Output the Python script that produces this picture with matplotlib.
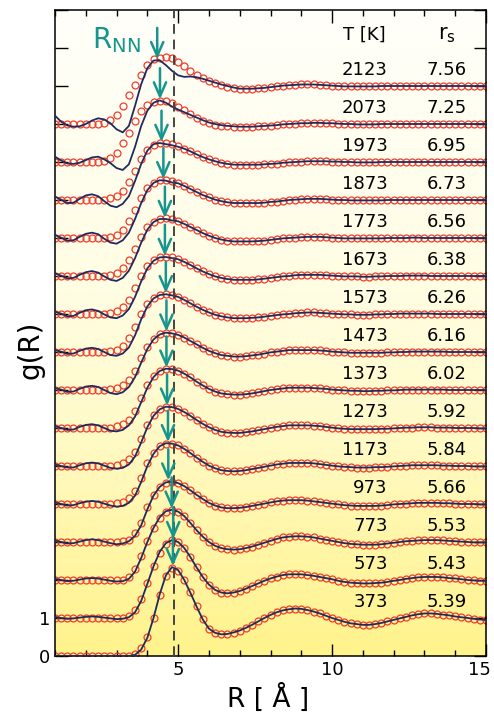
import numpy as np
import matplotlib.pyplot as plt
from matplotlib.colors import LinearSegmentedColormap
from matplotlib.transforms import ScaledTranslation

plt.rcParams['font.family'] = ['DejaVu Sans']

# R grid (angstrom) shared by every curve
r = np.round(np.linspace(1.0, 15.0, 71), 1)

temps = [373, 573, 773, 973, 1173, 1273, 1373, 1473, 1573, 1673, 1773, 1873, 1973, 2073, 2123]
rs = [5.39, 5.43, 5.53, 5.66, 5.84, 5.92, 6.02, 6.16, 6.26, 6.38, 6.56, 6.73, 6.95, 7.25, 7.56]
r_nn = [4.83, 4.84, 4.79, 4.68, 4.67, 4.64, 4.62, 4.62, 4.60, 4.57, 4.57, 4.52, 4.46, 4.41, 4.32]

# measured g(R), circles
g_373 = [0, 0, 0, 0, 0, 0, 0, 0, 0, 0,
         0, 0, 0.01, 0.05, 0.2, 0.5, 1.0, 1.6, 2.1, 2.32,
         2.25, 2.0, 1.68, 1.32, 0.97, 0.72, 0.61, 0.57, 0.57, 0.61,
         0.67, 0.74, 0.82, 0.91, 1.0, 1.08, 1.15, 1.2, 1.23, 1.25,
         1.24, 1.21, 1.17, 1.12, 1.06, 1.0, 0.95, 0.9, 0.86, 0.84,
         0.82, 0.82, 0.84, 0.87, 0.91, 0.95, 0.99, 1.03, 1.07, 1.1,
         1.12, 1.12, 1.11, 1.09, 1.07, 1.04, 1.02, 1.0, 0.98, 0.96, 0.95]
g_573 = [0, 0, 0, 0, 0, 0, 0, 0, 0, 0,
         0, 0.01, 0.04, 0.2, 0.5, 0.92, 1.36, 1.72, 1.95, 2.04,
         2.0, 1.84, 1.6, 1.33, 1.08, 0.88, 0.74, 0.67, 0.65, 0.67,
         0.71, 0.77, 0.84, 0.91, 0.98, 1.04, 1.09, 1.13, 1.15, 1.15,
         1.15, 1.13, 1.11, 1.08, 1.05, 1.02, 0.98, 0.95, 0.93, 0.92,
         0.91, 0.91, 0.92, 0.93, 0.95, 0.98, 1.0, 1.03, 1.05, 1.07,
         1.08, 1.08, 1.08, 1.07, 1.05, 1.04, 1.02, 1.0, 0.99, 0.98, 0.98]
g_773 = [0, 0, 0, 0, 0, 0, 0, 0, 0, 0,
         0, 0.01, 0.07, 0.28, 0.63, 1.03, 1.38, 1.64, 1.79, 1.84,
         1.8, 1.68, 1.5, 1.31, 1.14, 1.0, 0.9, 0.84, 0.81, 0.8,
         0.81, 0.84, 0.88, 0.93, 0.98, 1.03, 1.08, 1.12, 1.14, 1.15,
         1.15, 1.14, 1.12, 1.09, 1.06, 1.03, 1.0, 0.97, 0.95, 0.94,
         0.93, 0.93, 0.93, 0.94, 0.96, 0.98, 1.0, 1.02, 1.03, 1.04,
         1.05, 1.05, 1.05, 1.04, 1.03, 1.02, 1.01, 1.0, 0.99, 0.99, 0.99]
g_973 = [0, 0, 0, 0, 0, 0, 0, 0, 0, 0,
         0, 0.02, 0.06, 0.24, 0.5, 0.92, 1.25, 1.45, 1.56, 1.59,
         1.55, 1.47, 1.36, 1.24, 1.13, 1.03, 0.96, 0.91, 0.89, 0.89,
         0.9, 0.92, 0.95, 0.98, 1.01, 1.04, 1.07, 1.09, 1.1, 1.1,
         1.1, 1.09, 1.07, 1.05, 1.03, 1.01, 0.99, 0.97, 0.96, 0.95,
         0.95, 0.95, 0.95, 0.96, 0.97, 0.99, 1.0, 1.01, 1.02, 1.03,
         1.03, 1.03, 1.03, 1.02, 1.02, 1.01, 1.0, 1.0, 1.0, 0.99, 0.99]
g_1173 = [0, 0, 0, 0, 0, 0, 0, 0, 0, 0.01,
          0.02, 0.06, 0.15, 0.35, 0.68, 1.07, 1.35, 1.52, 1.59, 1.59,
          1.54, 1.45, 1.34, 1.22, 1.11, 1.01, 0.94, 0.89, 0.87, 0.86,
          0.87, 0.89, 0.92, 0.95, 0.98, 1.01, 1.04, 1.06, 1.08, 1.08,
          1.08, 1.08, 1.07, 1.05, 1.03, 1.01, 0.99, 0.98, 0.97, 0.96,
          0.96, 0.96, 0.97, 0.97, 0.98, 0.99, 1.0, 1.01, 1.02, 1.02,
          1.02, 1.02, 1.02, 1.01, 1.01, 1.0, 1.0, 1.0, 0.99, 0.99, 0.99]
g_1273 = [0, 0, 0, 0, 0, 0, 0, 0, 0, 0.01,
          0.03, 0.08, 0.18, 0.38, 0.72, 1.08, 1.34, 1.49, 1.55, 1.55,
          1.5, 1.42, 1.32, 1.21, 1.11, 1.02, 0.95, 0.9, 0.88, 0.87,
          0.87, 0.89, 0.91, 0.94, 0.97, 1.0, 1.03, 1.05, 1.07, 1.07,
          1.07, 1.07, 1.06, 1.05, 1.03, 1.01, 0.99, 0.98, 0.97, 0.97,
          0.97, 0.97, 0.97, 0.98, 0.98, 0.99, 1.0, 1.01, 1.01, 1.02,
          1.02, 1.02, 1.01, 1.01, 1.01, 1.0, 1.0, 1.0, 1.0, 0.99, 0.99]
g_1373 = [0, 0, 0, 0, 0, 0, 0, 0, 0, 0.01,
          0.04, 0.1, 0.22, 0.45, 0.8, 1.14, 1.38, 1.51, 1.56, 1.56,
          1.51, 1.43, 1.33, 1.22, 1.12, 1.03, 0.96, 0.91, 0.89, 0.88,
          0.88, 0.89, 0.91, 0.94, 0.97, 1.0, 1.02, 1.04, 1.06, 1.06,
          1.06, 1.06, 1.05, 1.04, 1.03, 1.01, 1.0, 0.99, 0.98, 0.98,
          0.97, 0.97, 0.98, 0.98, 0.99, 0.99, 1.0, 1.01, 1.01, 1.01,
          1.01, 1.01, 1.01, 1.01, 1.0, 1.0, 1.0, 1.0, 1.0, 1.0, 1.0]
g_1473 = [0, 0, 0, 0, 0, 0, 0, 0, 0, 0.02,
          0.05, 0.12, 0.26, 0.5, 0.84, 1.14, 1.35, 1.47, 1.51, 1.5,
          1.45, 1.38, 1.29, 1.2, 1.11, 1.03, 0.97, 0.92, 0.9, 0.88,
          0.88, 0.89, 0.91, 0.93, 0.96, 0.99, 1.01, 1.03, 1.05, 1.05,
          1.05, 1.05, 1.05, 1.04, 1.03, 1.01, 1.0, 0.99, 0.98, 0.98,
          0.98, 0.98, 0.98, 0.98, 0.99, 0.99, 1.0, 1.0, 1.01, 1.01,
          1.01, 1.01, 1.01, 1.01, 1.0, 1.0, 1.0, 1.0, 1.0, 1.0, 1.0]
g_1573 = [0, 0, 0, 0, 0, 0, 0, 0, 0, 0.02,
          0.06, 0.16, 0.36, 0.66, 1.0, 1.27, 1.43, 1.51, 1.53, 1.51,
          1.45, 1.37, 1.28, 1.19, 1.11, 1.04, 0.98, 0.94, 0.91, 0.89,
          0.89, 0.89, 0.9, 0.91, 0.93, 0.95, 0.97, 0.99, 1.0, 1.02,
          1.03, 1.04, 1.04, 1.03, 1.02, 1.01, 1.0, 0.99, 0.99, 0.98,
          0.98, 0.98, 0.99, 0.99, 1.0, 1.0, 1.01, 1.01, 1.01, 1.01,
          1.01, 1.01, 1.0, 1.0, 1.0, 1.0, 1.0, 1.0, 1.0, 1.0, 1.0]
g_1673 = [0, 0, 0, 0, 0, 0, 0, 0, 0, 0.02,
          0.07, 0.18, 0.38, 0.68, 1.0, 1.26, 1.41, 1.49, 1.51, 1.49,
          1.44, 1.37, 1.29, 1.2, 1.12, 1.05, 0.99, 0.95, 0.92, 0.9,
          0.9, 0.9, 0.9, 0.91, 0.93, 0.95, 0.97, 0.99, 1.0, 1.02,
          1.03, 1.03, 1.03, 1.03, 1.02, 1.01, 1.0, 0.99, 0.99, 0.99,
          0.98, 0.98, 0.99, 0.99, 1.0, 1.0, 1.0, 1.01, 1.01, 1.01,
          1.01, 1.0, 1.0, 1.0, 1.0, 1.0, 1.0, 1.0, 1.0, 1.0, 1.0]
g_1773 = [0, 0, 0, 0, 0, 0, 0, 0, 0.01, 0.03,
          0.08, 0.2, 0.41, 0.71, 1.03, 1.28, 1.43, 1.5, 1.52, 1.49,
          1.44, 1.37, 1.29, 1.21, 1.13, 1.06, 1.0, 0.96, 0.93, 0.91,
          0.91, 0.91, 0.91, 0.92, 0.93, 0.95, 0.97, 0.99, 1.0, 1.01,
          1.02, 1.03, 1.03, 1.03, 1.02, 1.01, 1.0, 0.99, 0.99, 0.99,
          0.99, 0.99, 0.99, 0.99, 1.0, 1.0, 1.0, 1.0, 1.01, 1.01,
          1.0, 1.0, 1.0, 1.0, 1.0, 1.0, 1.0, 1.0, 1.0, 1.0, 1.0]
g_1873 = [0, 0, 0, 0, 0, 0, 0, 0, 0.01, 0.03,
          0.09, 0.22, 0.44, 0.74, 1.06, 1.31, 1.45, 1.52, 1.53, 1.5,
          1.44, 1.37, 1.29, 1.21, 1.13, 1.07, 1.01, 0.97, 0.94, 0.92,
          0.92, 0.92, 0.92, 0.92, 0.93, 0.95, 0.96, 0.98, 1.0, 1.01,
          1.02, 1.03, 1.03, 1.03, 1.02, 1.01, 1.0, 1.0, 0.99, 0.99,
          0.99, 0.99, 0.99, 0.99, 1.0, 1.0, 1.0, 1.0, 1.0, 1.0,
          1.0, 1.0, 1.0, 1.0, 1.0, 1.0, 1.0, 1.0, 1.0, 1.0, 1.0]
g_1973 = [0, 0, 0, 0, 0, 0, 0, 0, 0.01, 0.04,
          0.1, 0.24, 0.47, 0.77, 1.08, 1.31, 1.44, 1.5, 1.51, 1.48,
          1.42, 1.35, 1.28, 1.2, 1.13, 1.07, 1.02, 0.98, 0.95, 0.93,
          0.93, 0.93, 0.93, 0.93, 0.94, 0.95, 0.96, 0.98, 0.99, 1.0,
          1.01, 1.02, 1.02, 1.02, 1.02, 1.01, 1.01, 1.0, 1.0, 0.99,
          0.99, 0.99, 0.99, 1.0, 1.0, 1.0, 1.0, 1.0, 1.0, 1.0,
          1.0, 1.0, 1.0, 1.0, 1.0, 1.0, 1.0, 1.0, 1.0, 1.0, 1.0]
g_2073 = [0, 0, 0, 0, 0, 0, 0, 0.01, 0.03, 0.1,
          0.23, 0.5, 0.77, 1.07, 1.33, 1.49, 1.57, 1.61, 1.6, 1.54,
          1.45, 1.36, 1.27, 1.17, 1.09, 1.02, 0.98, 0.95, 0.94, 0.93,
          0.93, 0.93, 0.93, 0.94, 0.95, 0.96, 0.97, 0.99, 1.0, 1.01,
          1.02, 1.02, 1.03, 1.03, 1.02, 1.02, 1.01, 1.0, 1.0, 0.99,
          0.99, 0.99, 0.99, 1.0, 1.0, 1.0, 1.0, 1.0, 1.0, 1.0,
          1.0, 1.0, 1.0, 1.0, 1.0, 1.0, 1.0, 1.0, 1.0, 1.0, 1.0]
g_2123 = [0, 0, 0, 0, 0, 0, 0, 0, 0.02, 0.1,
          0.25, 0.47, 0.76, 1.03, 1.3, 1.56, 1.7, 1.75, 1.77, 1.74,
          1.64, 1.52, 1.4, 1.29, 1.21, 1.14, 1.08, 1.03, 0.98, 0.95,
          0.93, 0.93, 0.93, 0.94, 0.95, 0.97, 0.99, 1.01, 1.02, 1.03,
          1.04, 1.04, 1.04, 1.03, 1.02, 1.01, 1.0, 0.99, 0.99, 0.99,
          0.99, 0.99, 0.99, 1.0, 1.0, 1.0, 1.0, 1.0, 1.0, 1.0,
          1.0, 1.0, 1.0, 1.0, 1.0, 1.0, 1.0, 1.0, 1.0, 1.0, 1.0]

# fitted g(R), lines, for R = 1.0 .. 6.8 (beyond that the fit sits on the data)
fit_373 = [0, 0, 0, 0, 0, 0, 0, 0, 0, 0,
           0, 0, 0, 0.03, 0.17, 0.48, 1.0, 1.62, 2.12, 2.34,
           2.26, 2.0, 1.66, 1.3, 0.96, 0.72, 0.61, 0.57, 0.58, 0.62]
fit_573 = [0.03, 0.0, -0.02, -0.01, 0.01, 0.03, 0.04, 0.03, 0.01, -0.01,
           -0.03, -0.02, 0.02, 0.15, 0.45, 0.9, 1.36, 1.74, 1.97, 2.05,
           2.0, 1.84, 1.6, 1.33, 1.08, 0.88, 0.74, 0.67, 0.65, 0.67]
fit_773 = [0.03, 0.0, -0.03, -0.02, 0.01, 0.04, 0.05, 0.04, 0.01, -0.02,
           -0.04, -0.03, 0.03, 0.22, 0.58, 1.0, 1.37, 1.65, 1.81, 1.85,
           1.8, 1.68, 1.5, 1.31, 1.14, 1.0, 0.9, 0.84, 0.81, 0.8]
fit_973 = [0.04, 0.0, -0.04, -0.03, 0.01, 0.05, 0.07, 0.05, 0.01, -0.03,
           -0.06, -0.04, 0.02, 0.16, 0.44, 0.86, 1.22, 1.45, 1.57, 1.59,
           1.55, 1.47, 1.36, 1.24, 1.13, 1.03, 0.96, 0.91, 0.89, 0.89]
fit_1173 = [0.04, 0.0, -0.04, -0.03, 0.02, 0.06, 0.08, 0.06, 0.01, -0.04,
            -0.07, -0.05, 0.03, 0.22, 0.58, 1.0, 1.32, 1.52, 1.6, 1.59,
            1.54, 1.45, 1.34, 1.22, 1.11, 1.01, 0.94, 0.89, 0.87, 0.86]
fit_1273 = [0.04, 0.0, -0.04, -0.04, 0.02, 0.07, 0.09, 0.07, 0.01, -0.05,
            -0.07, -0.05, 0.04, 0.25, 0.62, 1.02, 1.32, 1.49, 1.56, 1.55,
            1.5, 1.42, 1.32, 1.21, 1.11, 1.02, 0.95, 0.9, 0.88, 0.87]
fit_1373 = [0.05, 0.0, -0.05, -0.04, 0.03, 0.08, 0.1, 0.07, 0.0, -0.07,
            -0.09, -0.05, 0.07, 0.3, 0.68, 1.06, 1.34, 1.5, 1.56, 1.55,
            1.51, 1.43, 1.33, 1.22, 1.12, 1.03, 0.96, 0.91, 0.89, 0.88]
fit_1473 = [0.05, 0.01, -0.05, -0.04, 0.03, 0.09, 0.11, 0.08, 0.0, -0.08,
            -0.11, -0.06, 0.08, 0.34, 0.72, 1.08, 1.33, 1.46, 1.51, 1.49,
            1.45, 1.38, 1.29, 1.2, 1.11, 1.03, 0.97, 0.92, 0.9, 0.88]
fit_1573 = [0.05, 0.01, -0.05, -0.04, 0.03, 0.09, 0.11, 0.08, 0.0, -0.08,
            -0.1, -0.04, 0.12, 0.44, 0.86, 1.2, 1.41, 1.5, 1.52, 1.49,
            1.45, 1.37, 1.28, 1.19, 1.11, 1.04, 0.98, 0.94, 0.91, 0.89]
fit_1673 = [0.06, 0.01, -0.06, -0.05, 0.03, 0.1, 0.12, 0.08, -0.01, -0.09,
            -0.11, -0.04, 0.13, 0.45, 0.86, 1.2, 1.4, 1.49, 1.5, 1.47,
            1.44, 1.37, 1.29, 1.2, 1.12, 1.05, 0.99, 0.95, 0.92, 0.9]
fit_1773 = [0.07, 0.01, -0.06, -0.05, 0.03, 0.1, 0.13, 0.09, -0.01, -0.1,
            -0.13, -0.05, 0.14, 0.47, 0.88, 1.22, 1.42, 1.5, 1.5, 1.46,
            1.44, 1.37, 1.29, 1.21, 1.13, 1.06, 1.0, 0.96, 0.93, 0.91]
fit_1873 = [0.08, 0.01, -0.07, -0.06, 0.03, 0.11, 0.14, 0.1, -0.02, -0.12,
            -0.15, -0.06, 0.14, 0.5, 0.92, 1.26, 1.45, 1.52, 1.51, 1.46,
            1.44, 1.37, 1.29, 1.21, 1.13, 1.07, 1.01, 0.97, 0.94, 0.92]
fit_1973 = [0.09, 0.01, -0.08, -0.07, 0.03, 0.12, 0.15, 0.1, -0.03, -0.15,
            -0.19, -0.1, 0.1, 0.5, 0.95, 1.3, 1.47, 1.5, 1.47, 1.44,
            1.4, 1.35, 1.28, 1.2, 1.13, 1.07, 1.02, 0.98, 0.95, 0.93]
fit_2073 = [0.14, 0.04, -0.04, -0.05, -0.02, 0.05, 0.12, 0.14, 0.07, -0.03,
            -0.16, -0.21, -0.06, 0.4, 0.95, 1.35, 1.56, 1.62, 1.56, 1.46,
            1.38, 1.31, 1.24, 1.17, 1.1, 1.04, 1.0, 0.97, 0.95, 0.94]
fit_2123 = [0.22, 0.06, -0.04, -0.07, -0.06, 0.0, 0.09, 0.15, 0.12, 0.02,
            -0.14, -0.22, -0.05, 0.48, 1.05, 1.47, 1.67, 1.68, 1.55, 1.4,
            1.28, 1.24, 1.25, 1.23, 1.19, 1.14, 1.09, 1.04, 1.0, 0.96]

data = [g_373, g_573, g_773, g_973, g_1173, g_1273, g_1373, g_1473,
        g_1573, g_1673, g_1773, g_1873, g_1973, g_2073, g_2123]
fits = [fit_373, fit_573, fit_773, fit_973, fit_1173, fit_1273, fit_1373, fit_1473,
        fit_1573, fit_1673, fit_1773, fit_1873, fit_1973, fit_2073, fit_2123]

red = '#ee3d2c'
navy = '#1f2b5e'
teal = '#16958f'

fig = plt.figure(figsize=(4.94, 7.13), dpi=100)
ax = fig.add_axes([55/494, 1-656/713, 431/494, 646/713])

# yellow (bottom) -> white (top) background
bg = LinearSegmentedColormap.from_list('bg', [
    (0.0, '#fff38c'), (0.2, '#fff7ac'), (0.35, '#fffac8'),
    (0.55, '#fffde1'), (0.75, '#fffeed'), (1.0, '#fffffa')])
ax.imshow(np.linspace(0, 1, 256).reshape(-1, 1), extent=[1, 15, 0, 17], origin='lower',
          aspect='auto', cmap=bg, zorder=0)

for i, T in enumerate(temps):
    g = np.array(data[i])
    f = np.concatenate([fits[i], data[i][len(fits[i]):]])
    ax.plot(r, g + i, 'o', mfc='none', mec=red, ms=5.0, mew=0.9, zorder=2)
    ax.plot(r, f + i, color=navy, lw=1.3, zorder=3)
    top = max(fits[i]) + i
    ax.annotate('', xy=(r_nn[i], top + 0.03), xytext=(r_nn[i], top + 0.85),
                arrowprops=dict(arrowstyle='->,head_length=0.5,head_width=0.22',
                                color=teal, lw=1.8, mutation_scale=20,
                                shrinkA=0, shrinkB=0), zorder=6)
    ax.text(11.81, i + 1.42, str(T), ha='right', va='center', fontsize=13, zorder=7)
    ax.text(14.38, i + 1.42, f'{rs[i]:.2f}', ha='right', va='center', fontsize=13, zorder=7)

ax.axvline(4.86, color='#444444', ls=(0, (5, 3)), lw=1.4, zorder=4)

ax.text(11.06, 16.34, 'T [K]', ha='center', va='center', fontsize=13)
ax.text(13.73, 16.34, r'$\mathregular{r_s}$', ha='center', va='center', fontsize=15)
ax.text(2.98, 16.2, r'$\mathregular{R_{NN}}$', color=teal, ha='center', va='center', fontsize=20)

ax.set_xlim(1, 15)
ax.set_ylim(0, 17)
ax.set_xticks([5, 10, 15])
ax.set_xticks(range(1, 16), minor=True)
ax.set_yticks(range(0, 18))
ax.set_yticklabels(['0', '1'] + [''] * 16)
ax.tick_params(which='both', direction='in', top=True, right=True, labelsize=13, width=1)
ax.tick_params(which='major', length=9)
ax.tick_params(which='minor', length=4.5)
for s in ax.spines.values():
    s.set_linewidth(1.1)

# pull the last x tick label in so it stays on the canvas
last = ax.get_xticklabels()[-1]
last.set_transform(last.get_transform() + ScaledTranslation(-5/72, 0, fig.dpi_scale_trans))

fig.text(268/494, 1-698/713, 'R [ Å ]', ha='center', va='center', fontsize=19)
fig.text(30/494, 1-350/713, 'g(R)', ha='center', va='center', fontsize=20, rotation=90)

fig.savefig('out.png', dpi=100)
